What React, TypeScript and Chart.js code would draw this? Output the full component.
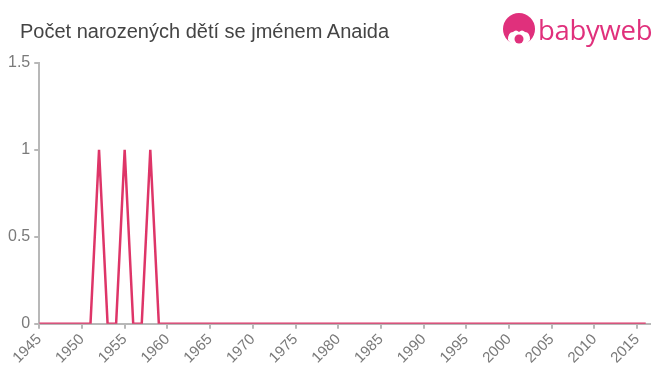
import React, { useEffect, useRef } from "react";
import { Chart, registerables } from "chart.js";

Chart.register(...registerables);

const TITLE = "Počet narozených dětí se jménem Anaida";

const years: number[] = [
  1945, 1946, 1947, 1948, 1949, 1950, 1951, 1952, 1953, 1954,
  1955, 1956, 1957, 1958, 1959, 1960, 1961, 1962, 1963, 1964,
  1965, 1966, 1967, 1968, 1969, 1970, 1971, 1972, 1973, 1974,
  1975, 1976, 1977, 1978, 1979, 1980, 1981, 1982, 1983, 1984,
  1985, 1986, 1987, 1988, 1989, 1990, 1991, 1992, 1993, 1994,
  1995, 1996, 1997, 1998, 1999, 2000, 2001, 2002, 2003, 2004,
  2005, 2006, 2007, 2008, 2009, 2010, 2011, 2012, 2013, 2014,
  2015, 2016,
];

const births: number[] = [
  0, 0, 0, 0, 0, 0, 0, 1, 0, 0,
  1, 0, 0, 1, 0, 0, 0, 0, 0, 0,
  0, 0, 0, 0, 0, 0, 0, 0, 0, 0,
  0, 0, 0, 0, 0, 0, 0, 0, 0, 0,
  0, 0, 0, 0, 0, 0, 0, 0, 0, 0,
  0, 0, 0, 0, 0, 0, 0, 0, 0, 0,
  0, 0, 0, 0, 0, 0, 0, 0, 0, 0,
  0, 0,
];

const xTicks: number[] = [
  1945, 1950, 1955, 1960, 1965, 1970, 1975, 1980,
  1985, 1990, 1995, 2000, 2005, 2010, 2015,
];
const yTicks: number[] = [0, 0.5, 1, 1.5];

const FONT = "'Liberation Sans', Arial, Helvetica, sans-serif";
const AXIS = "#b8b8b8";
const TICK_TEXT = "#7a7a7a";
const LINE = "#de3568";
const PINK = "#e0307c";

export default function App() {
  const ref = useRef<HTMLCanvasElement | null>(null);

  useEffect(() => {
    document.body.style.margin = "0";
    const ctx = ref.current;
    if (!ctx) return;
    const chart = new Chart(ctx, {
      type: "line",
      data: {
        datasets: [
          {
            data: years.map((y, i) => ({ x: y, y: births[i] })),
            borderColor: LINE,
            borderWidth: 2.5,
            pointRadius: 0,
            tension: 0,
            fill: false,
          },
        ],
      },
      options: {
        animation: false,
        responsive: true,
        maintainAspectRatio: false,
        layout: { padding: { top: 63, left: 4, right: 10, bottom: 6 } },
        plugins: {
          legend: { display: false },
          title: { display: false },
          tooltip: { enabled: false },
        },
        scales: {
          x: {
            type: "linear",
            min: 1945,
            max: 2016.5,
            afterBuildTicks: (scale: any) => {
              scale.ticks = xTicks.map((v) => ({ value: v }));
            },
            ticks: {
              minRotation: 45,
              maxRotation: 45,
              autoSkip: false,
              color: TICK_TEXT,
              font: { family: FONT, size: 15 },
              padding: 2,
              callback: (v: any) => String(v),
            },
            grid: {
              drawOnChartArea: false,
              drawTicks: true,
              tickLength: 5,
              color: AXIS,
              lineWidth: 2,
            },
            border: { color: AXIS, width: 2 },
          },
          y: {
            min: 0,
            max: 1.5,
            afterBuildTicks: (scale: any) => {
              scale.ticks = yTicks.map((v) => ({ value: v }));
            },
            ticks: {
              color: TICK_TEXT,
              font: { family: FONT, size: 16 },
              padding: 4,
              callback: (v: any) => String(v),
            },
            grid: {
              drawOnChartArea: false,
              drawTicks: true,
              tickLength: 5,
              color: AXIS,
              lineWidth: 2,
            },
            border: { color: AXIS, width: 2 },
          },
        },
      },
    } as any);
    return () => chart.destroy();
  }, []);

  return (
    <div style={{ position: "relative", width: 660, height: 375, background: "#fff", overflow: "hidden" }}>
      <canvas ref={ref} style={{ position: "absolute", left: 0, top: 0 }} />
      <div
        style={{
          position: "absolute",
          left: 20,
          top: 20,
          fontFamily: FONT,
          fontSize: 20,
          lineHeight: "23px",
          color: "#444",
          whiteSpace: "nowrap",
        }}
      >
        {TITLE}
      </div>
      <div style={{ position: "absolute", left: 502, top: 13, display: "flex", alignItems: "center" }}>
        <svg width="34" height="34" viewBox="0 0 34 34">
          <circle cx="17" cy="16" r="16" fill={PINK} />
          <path d="M6 27 Q6 19 11 19 Q14 16 17 19 Q20 16 23 19 Q28 19 28 27 Q24 33 17 33 Q10 33 6 27 Z" fill="#fff" />
          <circle cx="17" cy="26" r="4.5" fill={PINK} />
        </svg>
        <span
          style={{
            fontFamily: "'Open Sans', 'Noto Sans', sans-serif",
            fontSize: 27.5,
            color: PINK,
            marginLeft: 2,
            letterSpacing: -0.3,
            lineHeight: "34px",
          }}
        >
          babyweb
        </span>
      </div>
    </div>
  );
}
